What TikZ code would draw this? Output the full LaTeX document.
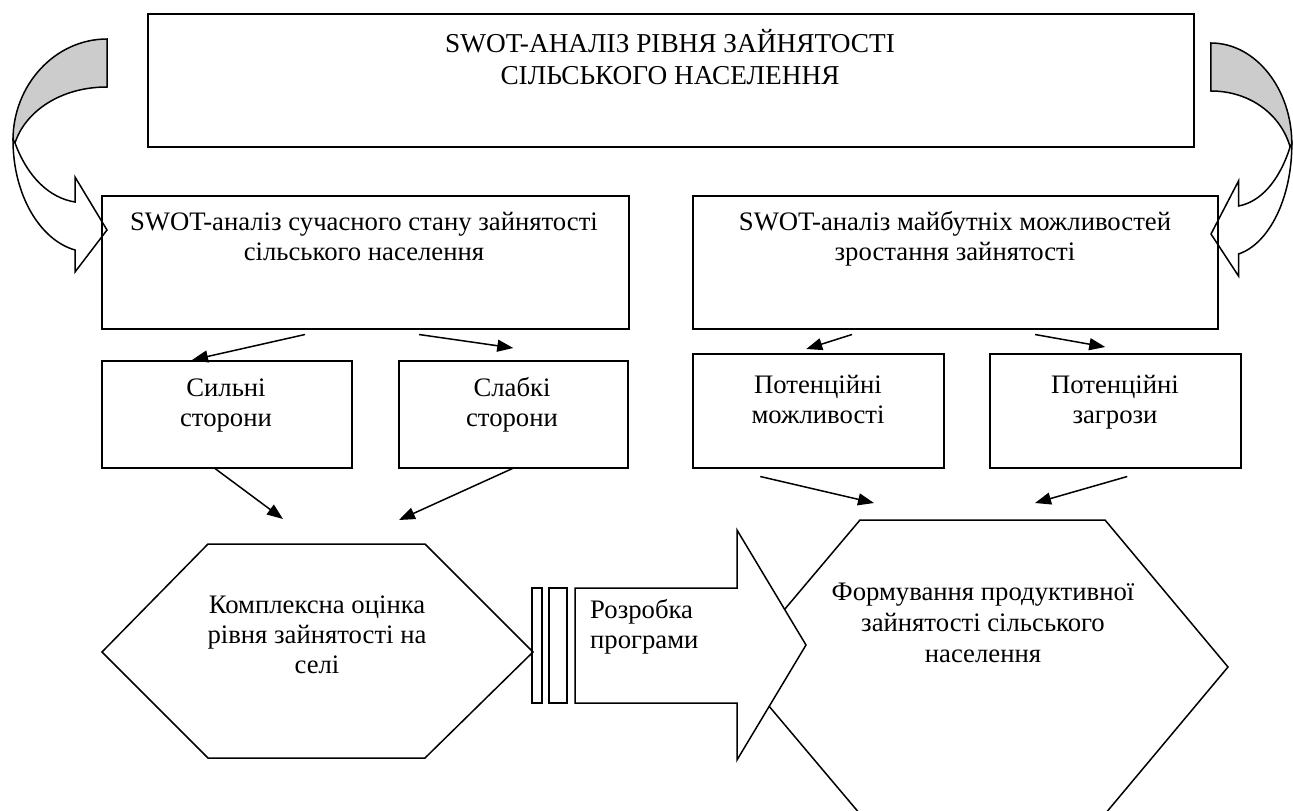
\documentclass[tikz,border=0pt]{standalone}
\usepackage{fontspec}
\setmainfont{Liberation Serif}
\usetikzlibrary{arrows.meta}
\newcommand{\swotcurv}{%
 \filldraw[fill=gray!40, line width=1.5pt, line join=miter] (107,39) -- (107,87) .. controls (60,87) and (25,112) .. (15,143) -- (13,140) .. controls (13,85) and (55,39) .. (107,39) -- cycle;
 \filldraw[fill=white, line width=1.5pt, line join=miter] (13,140) .. controls (13,195) and (40,240) .. (75,250) -- (75,272) -- (107,230) -- (75,177) -- (75,202) .. controls (50,198) and (28,178) .. (15,143) -- cycle;
}
\begin{document}
\begin{tikzpicture}[x=1pt,y=-1pt,
  box/.style={draw, line width=1.5pt, inner sep=0pt, anchor=north west},
  txt/.style={font=\fontsize{26.7}{30}\selectfont, align=center, inner sep=0pt, anchor=base},
  arr/.style={line width=1.5pt, -{Triangle[length=16pt,width=12pt]}},
  shp/.style={draw, line width=1.5pt, line join=miter}
]
\clip (0,0) rectangle (1293,811);
\fill[white] (0,0) rectangle (1293,811);
% curved arrows
\begin{scope}
\swotcurv
\end{scope}
\begin{scope}[shift={(1303,4)}, xscale=-0.86]
\swotcurv
\end{scope}
% boxes
\node[box, minimum width=1046pt, minimum height=133pt] (T) at (147,13) {};
\node[box, minimum width=527pt, minimum height=133pt] (L1) at (101,195) {};
\node[box, minimum width=525pt, minimum height=133pt] (R1) at (692,195) {};
\node[box, minimum width=250pt, minimum height=107pt] (S) at (101,360) {};
\node[box, minimum width=229pt, minimum height=107pt] (W) at (398,360) {};
\node[box, minimum width=251pt, minimum height=114pt] (O) at (692,353) {};
\node[box, minimum width=251pt, minimum height=114pt] (Th) at (989,353) {};
% texts (anchor = baseline of last line)
\node[txt, font=\fontsize{27.3}{32}\selectfont] (Tt) at (670,84) {SWOT-АНАЛІЗ РІВНЯ ЗАЙНЯТОСТІ\\СІЛЬСЬКОГО НАСЕЛЕННЯ};
\node[txt] (L1t) at (364,260) {SWOT-аналіз сучасного стану зайнятості\\сільського населення};
\node[txt] (R1t) at (955,260) {SWOT-аналіз майбутніх можливостей\\зростання зайнятості};
\node[txt] (St) at (226,426) {Сильні\\сторони};
\node[txt] (Wt) at (512,426) {Слабкі\\сторони};
\node[txt] (Ot) at (818,423) {Потенційні\\можливості};
\node[txt] (Tht) at (1115,423) {Потенційні\\загрози};
% hexagons
\coordinate (lh-w) at (102,652);
\coordinate (lh-tl) at (208,544);
\coordinate (lh-tr) at (425,544);
\coordinate (lh-e) at (533,652);
\coordinate (lh-br) at (425,758);
\coordinate (lh-bl) at (208,758);
\draw[shp] (lh-w) -- (lh-tl) -- (lh-tr) -- (lh-e) -- (lh-br) -- (lh-bl) -- cycle;
\node[txt] (LHt) at (317,673) {Комплексна оцінка\\рівня зайнятості на\\селі};
\coordinate (rh-w) at (736,667);
\coordinate (rh-tl) at (860,520);
\coordinate (rh-tr) at (1105,520);
\coordinate (rh-e) at (1228,667);
\coordinate (rh-br) at (1105,814);
\coordinate (rh-bl) at (860,814);
\draw[shp] (rh-w) -- (rh-tl) -- (rh-tr) -- (rh-e) -- (rh-br) -- (rh-bl) -- cycle;
\node[txt, font=\fontsize{26.7}{31}\selectfont] (RHt) at (983,662) {Формування продуктивної\\зайнятості сільського\\населення};
% middle arrow
\draw[shp] (532,588) rectangle (542,703);
\draw[shp] (549,588) rectangle (567,703);
\filldraw[shp, fill=white] (575,588) -- (737,588) -- (737,530) -- (806,645) -- (737,760) -- (737,703) -- (575,703) -- cycle;
\node[txt, align=left, anchor=base west] (At) at (590,648) {Розробка\\програми};
% connectors
\draw[arr] ([xshift=204pt,yshift=-5pt]L1.south west) -- ([xshift=91pt]S.north west);
\draw[arr] ([xshift=318pt,yshift=-5pt]L1.south west) -- ([yshift=12pt]W.north);
\draw[arr] ([xshift=114pt]S.south west) -- ([xshift=75pt,yshift=25pt]lh-tl);
\draw[arr] ([xshift=-116pt]W.south east) -- ([xshift=-26pt,yshift=24pt]lh-tr);
\draw[arr] ([xshift=160pt,yshift=-5pt]R1.south west) -- ([xshift=-12pt,yshift=4pt]O.north);
\draw[arr] ([xshift=343pt,yshift=-5pt]R1.south west) -- ([xshift=-10pt,yshift=6pt]Th.north);
\draw[arr] ([xshift=-58pt,yshift=-8pt]O.south) -- ([xshift=14pt,yshift=17pt]rh-tl);
\draw[arr] ([xshift=12pt,yshift=-8pt]Th.south) -- ([xshift=-70pt,yshift=17pt]rh-tr);
\end{tikzpicture}
\end{document}
